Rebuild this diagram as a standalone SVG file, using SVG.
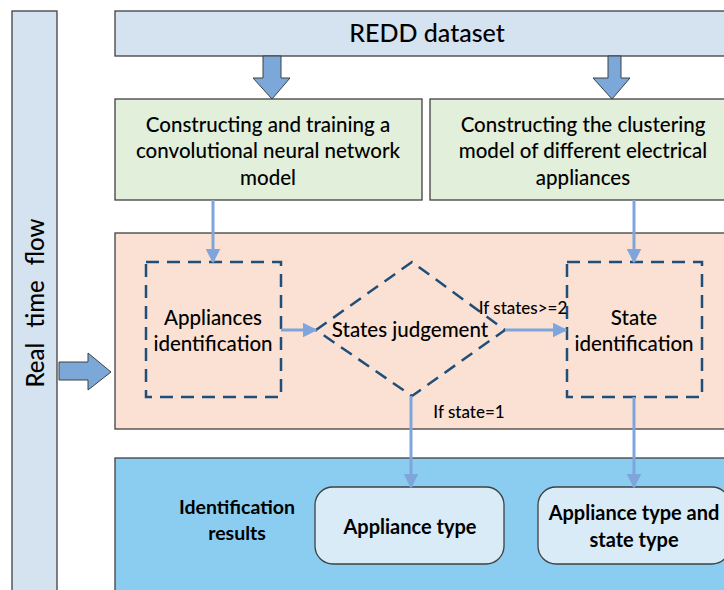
<svg xmlns="http://www.w3.org/2000/svg" width="724" height="590" viewBox="0 0 724 590">
<style>
.t{font-family:Lato,"Open Sans","Liberation Sans",sans-serif;fill:#000;text-anchor:middle;font-weight:500}
.b{font-weight:700}
.box{stroke:#404040;stroke-width:1.3}
.dash{fill:none;stroke:#1f4e79;stroke-width:2.5;stroke-dasharray:13 8}
.con{stroke:#7ea6dc;stroke-width:3;fill:none}
.blk{fill:#7ba7d9;stroke:#404040;stroke-width:1}
</style>
<defs>
<marker id="ah" markerWidth="5" markerHeight="5" refX="4.5" refY="2.5" orient="auto" markerUnits="strokeWidth"><path d="M0,0 L5,2.5 L0,5 Z" fill="#7ea6dc"/></marker>
</defs>
<g id="timeflow">
<rect class="box" x="12" y="11" width="45" height="600" fill="#d5e3f1"/>
<text class="t" transform="translate(44,303) rotate(-90)" font-size="24" word-spacing="9">Real time flow</text>
</g>
<g id="redd">
<rect class="box" x="115" y="11" width="620" height="45" fill="#d5e3f1"/>
<text class="t" x="427" y="42" font-size="25">REDD dataset</text>
</g>
<g id="cnn">
<rect class="box" x="115" y="99" width="307" height="101" fill="#e2efdb"/>
<text class="t" x="268" y="132" font-size="20.5">Constructing and training a</text>
<text class="t" x="268" y="158" font-size="20.5">convolutional neural network</text>
<text class="t" x="268" y="185" font-size="20.5">model</text>
</g>
<g id="cluster">
<rect class="box" x="430" y="99" width="310" height="101" fill="#e2efdb"/>
<text class="t" x="583" y="132" font-size="20.5">Constructing the clustering</text>
<text class="t" x="583" y="158" font-size="20.5">model of different electrical</text>
<text class="t" x="583" y="185" font-size="20.5">appliances</text>
</g>
<g id="process">
<rect class="box" x="115" y="233" width="620" height="196" fill="#fbe1d3"/>
</g>
<g id="appid">
<rect class="dash" x="146" y="262" width="135" height="135"/>
<text class="t" x="213" y="325" font-size="20.5">Appliances</text>
<text class="t" x="213" y="351" font-size="20.5">identification</text>
</g>
<g id="judge">
<polygon class="dash" points="316,330 412,262 505,330 412,396"/>
<text class="t" x="410" y="337" font-size="20.5">States judgement</text>
</g>
<g id="stateid">
<rect class="dash" x="567" y="262" width="135" height="135"/>
<text class="t" x="634" y="325" font-size="20.5">State</text>
<text class="t" x="634" y="351" font-size="20.5">identification</text>
</g>
<g id="results">
<rect class="box" x="115" y="458" width="620" height="150" fill="#8bcdf0"/>
<text class="t b" x="237" y="514" font-size="19.5">Identification</text>
<text class="t b" x="237" y="540" font-size="19.5">results</text>
</g>
<g id="apptype">
<rect class="box" x="315" y="487" width="189" height="77" rx="18" fill="#d9ebf7"/>
<text class="t b" x="410" y="534" font-size="20">Appliance type</text>
</g>
<g id="appstatetype">
<rect class="box" x="538" y="487" width="192" height="77" rx="18" fill="#d9ebf7"/>
<text class="t b" x="634" y="520" font-size="20">Appliance type and</text>
<text class="t b" x="634" y="547" font-size="20">state type</text>
</g>
<g id="connectors">
<path class="blk" d="M263,56 L281,56 L281,78 L290,78 L272,99 L253,78 L263,78 Z"/>
<path class="blk" d="M608,56 L621,56 L621,78 L630,78 L612,99 L593,78 L608,78 Z"/>
<path class="blk" d="M59,362 L88,362 L88,353 L111,372 L88,390 L88,380 L59,380 Z"/>
<line class="con" x1="213" y1="200" x2="213" y2="262" marker-end="url(#ah)"/>
<line class="con" x1="634" y1="200" x2="634" y2="262" marker-end="url(#ah)"/>
<line class="con" x1="281" y1="330" x2="316" y2="330" marker-end="url(#ah)"/>
<line class="con" x1="505" y1="330" x2="566" y2="330" marker-end="url(#ah)"/>
<line class="con" x1="411" y1="396" x2="411" y2="487" marker-end="url(#ah)"/>
<line class="con" x1="634" y1="397" x2="634" y2="487" marker-end="url(#ah)"/>
<text class="t" x="523" y="314" font-size="17" font-weight="600">If states&gt;=2</text>
<text class="t" x="469" y="418" font-size="17" font-weight="600">If state=1</text>
</g>
</svg>
